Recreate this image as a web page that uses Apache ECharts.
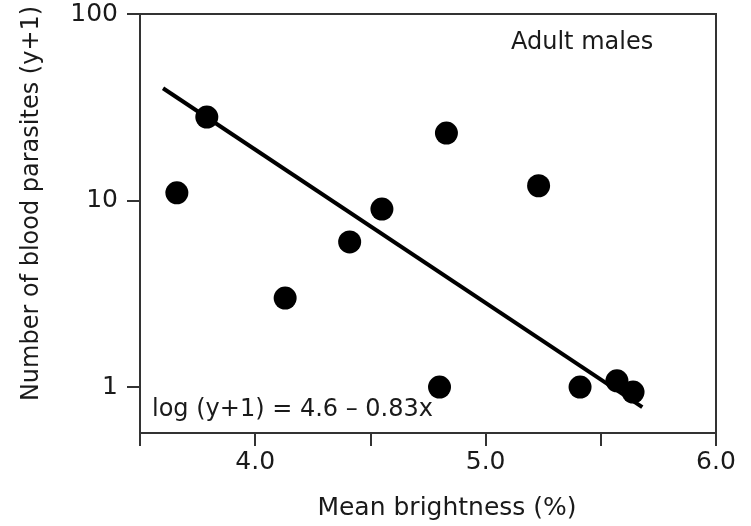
<!DOCTYPE html>
<html>
<head>
<meta charset="utf-8">
<script src="https://cdn.jsdelivr.net/npm/echarts@6/dist/echarts.min.js"></script>
<style>
  html, body { margin: 0; padding: 0; background: #fff; }
  #chart { width: 751px; height: 526px; }
</style>
</head>
<body>
<div id="chart"></div>
<script>
// mean brightness (%) and blood parasites (y+1), adult males
const brightness = [3.66, 3.79, 4.13, 4.41, 4.55, 4.83, 4.80, 5.23, 5.41, 5.57, 5.64];
const parasites  = [11, 28, 3, 6, 9, 23, 1, 12, 1, 1.08, 0.94];

// fitted line end points, log(y+1) = 4.6 - 0.83x
const fitX = [3.6, 5.68];
const fitY = [40, 0.78];

const yTicks = [1, 10, 100];

const font = 'DejaVu Sans';
const textColor = '#1a1a1a';
const axisColor = '#333';

const chart = echarts.init(document.getElementById('chart'));

const option = {
    animation: false,
    grid: {
        left: 140,
        top: 14,
        right: 35,
        bottom: 93,
        show: true,
        borderColor: axisColor,
        borderWidth: 2
    },
    xAxis: {
        type: 'value',
        min: 3.5,
        max: 6.0,
        interval: 0.5,
        name: 'Mean brightness (%)',
        nameLocation: 'middle',
        nameGap: 63,
        nameTextStyle: {
            fontFamily: font,
            fontSize: 25,
            color: textColor,
            padding: [0, 0, 0, 38]
        },
        axisLine: {
            lineStyle: { color: axisColor, width: 2 }
        },
        axisTick: {
            show: true,
            length: 13,
            lineStyle: { color: axisColor, width: 2 }
        },
        axisLabel: {
            margin: 17,
            fontFamily: font,
            fontSize: 25,
            color: textColor,
            formatter: function (v) {
                return Math.abs(v - Math.round(v)) < 1e-6 ? v.toFixed(1) : '';
            }
        },
        splitLine: { show: false }
    },
    yAxis: {
        type: 'log',
        logBase: 10,
        min: 0.567,
        max: 100,
        name: 'Number of blood parasites (y+1)',
        nameLocation: 'middle',
        nameGap: 96,
        nameRotate: 90,
        nameTextStyle: {
            fontFamily: font,
            fontSize: 24,
            color: textColor,
            padding: [0, 0, 0, 40]
        },
        axisLine: {
            show: true,
            lineStyle: { color: axisColor, width: 2 }
        },
        axisTick: {
            show: true,
            length: 13,
            customValues: yTicks,
            lineStyle: { color: axisColor, width: 2 }
        },
        axisLabel: {
            margin: 22,
            fontFamily: font,
            fontSize: 25,
            color: textColor,
            customValues: yTicks
        },
        splitLine: { show: false },
        minorTick: { show: false }
    },
    graphic: [
        {
            type: 'text',
            left: 511,
            top: 31,
            style: {
                text: 'Adult males',
                fontFamily: font,
                fontSize: 24,
                fill: textColor
            }
        },
        {
            type: 'text',
            left: 152,
            top: 398,
            style: {
                text: 'log (y+1) = 4.6 \u2013 0.83x',
                fontFamily: font,
                fontSize: 24,
                fill: textColor
            }
        }
    ],
    series: [
        {
            type: 'line',
            data: fitX.map((x, i) => [x, fitY[i]]),
            symbol: 'none',
            lineStyle: { color: '#000', width: 4 },
            z: 3
        },
        {
            type: 'scatter',
            data: brightness.map((x, i) => [x, parasites[i]]),
            symbol: 'circle',
            symbolSize: 23,
            itemStyle: { color: '#000', opacity: 1 },
            z: 4
        }
    ]
};

chart.setOption(option);
</script>
</body>
</html>
